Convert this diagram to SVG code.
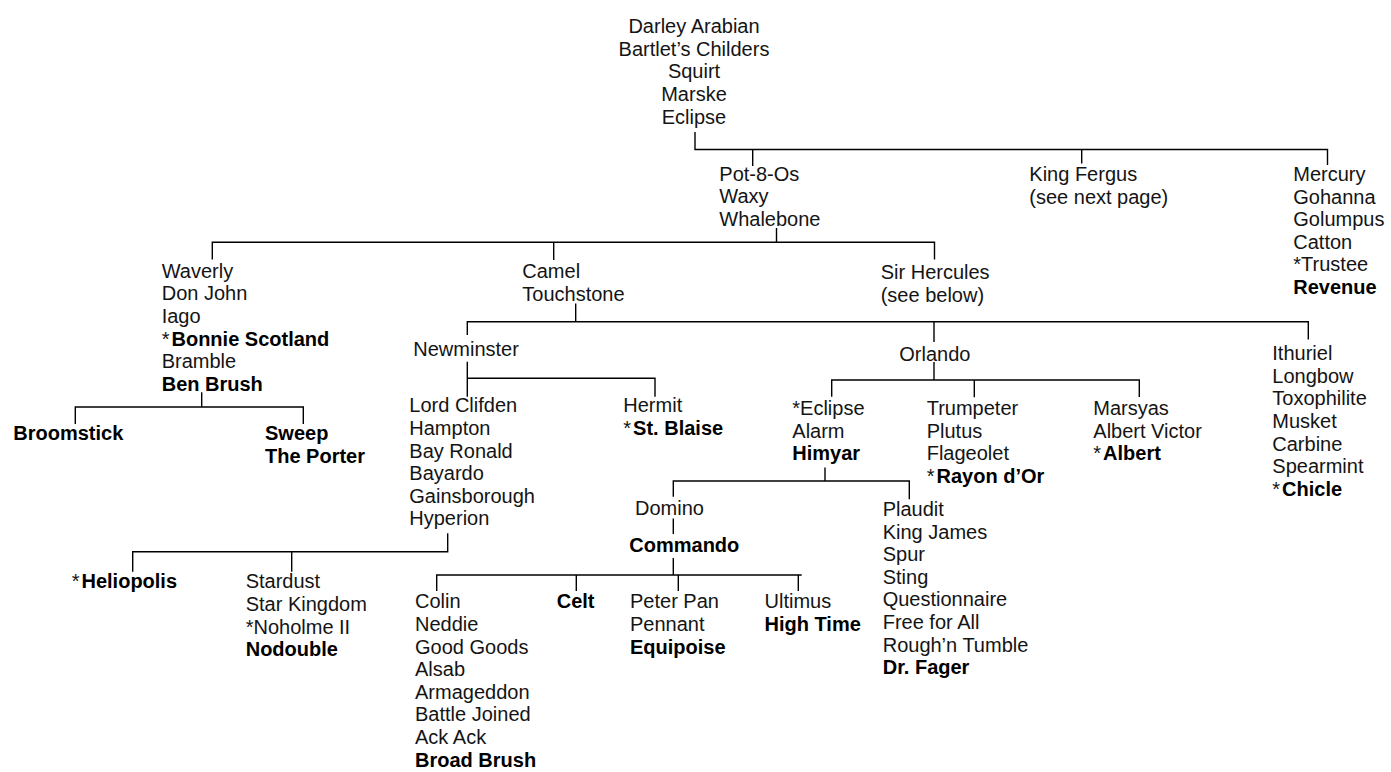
<svg xmlns="http://www.w3.org/2000/svg" width="1391" height="772" viewBox="0 0 1391 772">
<style>
text { font-family: "Liberation Sans", Arial, sans-serif; font-size: 20px; fill: #141414; }
.b { font-weight: bold; fill: #000; }
.c { text-anchor: middle; }
#connectors path { fill: none; stroke: #000; stroke-width: 1.4; }
</style>
<rect width="1391" height="772" fill="#fff"/>
<g id="connectors">
<path d="M695 132 V149.5 H1327.5 V165"/>
<path d="M752.7 149.5 V166"/>
<path d="M1081.7 149.5 V163.5"/>
<path d="M776.5 228 V242.3"/>
<path d="M212.3 259.5 V242.3 H934.5 V259.5"/>
<path d="M553.7 242.3 V260"/>
<path d="M575.7 303.5 V321.7"/>
<path d="M467.3 335 V321.7 H1308.3 V339.5"/>
<path d="M934 321.7 V342"/>
<path d="M467.3 361.7 V396.7"/>
<path d="M467.3 378.3 H655 V396.7"/>
<path d="M934 362 V380"/>
<path d="M831.7 396.7 V380 H1139.3 V397"/>
<path d="M974.3 380 V397.3"/>
<path d="M825 467.5 V481"/>
<path d="M673.3 496.7 V481 H909.3 V499.3"/>
<path d="M673.3 518.5 V534"/>
<path d="M673.3 558 V575"/>
<path d="M436.7 591 V575 H801.7"/>
<path d="M576.3 575 V591"/>
<path d="M678.3 575 V591"/>
<path d="M798.3 575 V591"/>
<path d="M447.7 533.3 V551.7 H132.7 V571.7"/>
<path d="M291.7 551.7 V571.7"/>
<path d="M201.7 392.3 V407"/>
<path d="M75.3 424 V407 H303.3 V424"/>
</g>
<g id="darley">
<text class="c" x="694" y="33.2">Darley Arabian</text>
<text class="c" x="694" y="55.8">Bartlet’s Childers</text>
<text class="c" x="694" y="78.4">Squirt</text>
<text class="c" x="694" y="101">Marske</text>
<text class="c" x="694" y="123.6">Eclipse</text>
</g>
<g id="pot8os">
<text x="719.3" y="180.7">Pot-8-Os</text>
<text x="719.3" y="203.4">Waxy</text>
<text x="719.3" y="226">Whalebone</text>
</g>
<g id="kingfergus">
<text x="1029.3" y="181">King Fergus</text>
<text x="1029.3" y="203.6">(see next page)</text>
</g>
<g id="mercury">
<text x="1293.3" y="181">Mercury</text>
<text x="1293.3" y="203.6">Gohanna</text>
<text x="1293.3" y="226.2">Golumpus</text>
<text x="1293.3" y="248.8">Catton</text>
<text x="1293.3" y="271.4">*Trustee</text>
<text class="b" x="1293.3" y="294">Revenue</text>
</g>
<g id="waverly">
<text x="161.7" y="277.7">Waverly</text>
<text x="161.7" y="300.3">Don John</text>
<text x="161.7" y="323">Iago</text>
<text x="161.7" y="345.7">*<tspan class="b" dx="2">Bonnie Scotland</tspan></text>
<text x="161.7" y="368.3">Bramble</text>
<text class="b" x="161.7" y="391">Ben Brush</text>
</g>
<g id="camel">
<text x="522.3" y="278.4">Camel</text>
<text x="522.3" y="301">Touchstone</text>
</g>
<g id="sirhercules">
<text x="880.7" y="279">Sir Hercules</text>
<text x="880.7" y="301.6">(see below)</text>
</g>
<g id="broomstick">
<text class="b" x="13.3" y="440">Broomstick</text>
</g>
<g id="sweep">
<text class="b" x="265" y="440">Sweep</text>
<text class="b" x="265" y="462.6">The Porter</text>
</g>
<g id="newminster">
<text x="413.3" y="355.5">Newminster</text>
</g>
<g id="orlando">
<text x="899.3" y="361">Orlando</text>
</g>
<g id="ithuriel">
<text x="1272.3" y="360">Ithuriel</text>
<text x="1272.3" y="382.7">Longbow</text>
<text x="1272.3" y="405.3">Toxophilite</text>
<text x="1272.3" y="428">Musket</text>
<text x="1272.3" y="450.7">Carbine</text>
<text x="1272.3" y="473.3">Spearmint</text>
<text x="1272.3" y="496">*<tspan class="b" dx="2">Chicle</tspan></text>
</g>
<g id="lordclifden">
<text x="409.3" y="412.3">Lord Clifden</text>
<text x="409.3" y="435">Hampton</text>
<text x="409.3" y="457.6">Bay Ronald</text>
<text x="409.3" y="480.2">Bayardo</text>
<text x="409.3" y="502.8">Gainsborough</text>
<text x="409.3" y="525.4">Hyperion</text>
</g>
<g id="hermit">
<text x="623.3" y="412.3">Hermit</text>
<text x="623.3" y="435">*<tspan class="b" dx="2">St. Blaise</tspan></text>
</g>
<g id="eclipse2">
<text x="792.3" y="415">*Eclipse</text>
<text x="792.3" y="437.6">Alarm</text>
<text class="b" x="792.3" y="460.2">Himyar</text>
</g>
<g id="trumpeter">
<text x="926.7" y="415">Trumpeter</text>
<text x="926.7" y="437.6">Plutus</text>
<text x="926.7" y="460.2">Flageolet</text>
<text x="926.7" y="482.8">*<tspan class="b" dx="2">Rayon d’Or</tspan></text>
</g>
<g id="marsyas">
<text x="1093.3" y="415">Marsyas</text>
<text x="1093.3" y="437.6">Albert Victor</text>
<text x="1093.3" y="460.2">*<tspan class="b" dx="2">Albert</tspan></text>
</g>
<g id="domino">
<text x="635" y="515">Domino</text>
</g>
<g id="commando">
<text class="b" x="629.3" y="552.3">Commando</text>
</g>
<g id="plaudit">
<text x="882.7" y="516">Plaudit</text>
<text x="882.7" y="538.6">King James</text>
<text x="882.7" y="561.2">Spur</text>
<text x="882.7" y="583.8">Sting</text>
<text x="882.7" y="606.4">Questionnaire</text>
<text x="882.7" y="629">Free for All</text>
<text x="882.7" y="651.6">Rough’n Tumble</text>
<text class="b" x="882.7" y="674.2">Dr. Fager</text>
</g>
<g id="heliopolis">
<text x="71.7" y="588.3">*<tspan class="b" dx="2">Heliopolis</tspan></text>
</g>
<g id="stardust">
<text x="245.7" y="588.3">Stardust</text>
<text x="245.7" y="611">Star Kingdom</text>
<text x="245.7" y="633.6">*Noholme II</text>
<text class="b" x="245.7" y="656.2">Nodouble</text>
</g>
<g id="colin">
<text x="415" y="608.3">Colin</text>
<text x="415" y="631">Neddie</text>
<text x="415" y="653.6">Good Goods</text>
<text x="415" y="676.2">Alsab</text>
<text x="415" y="698.8">Armageddon</text>
<text x="415" y="721.4">Battle Joined</text>
<text x="415" y="744">Ack Ack</text>
<text class="b" x="415" y="766.6">Broad Brush</text>
</g>
<g id="celt">
<text class="b" x="556.7" y="608.3">Celt</text>
</g>
<g id="peterpan">
<text x="630" y="608.3">Peter Pan</text>
<text x="630" y="631">Pennant</text>
<text class="b" x="630" y="653.6">Equipoise</text>
</g>
<g id="ultimus">
<text x="764.5" y="608.3">Ultimus</text>
<text class="b" x="764.5" y="631">High Time</text>
</g>
</svg>
